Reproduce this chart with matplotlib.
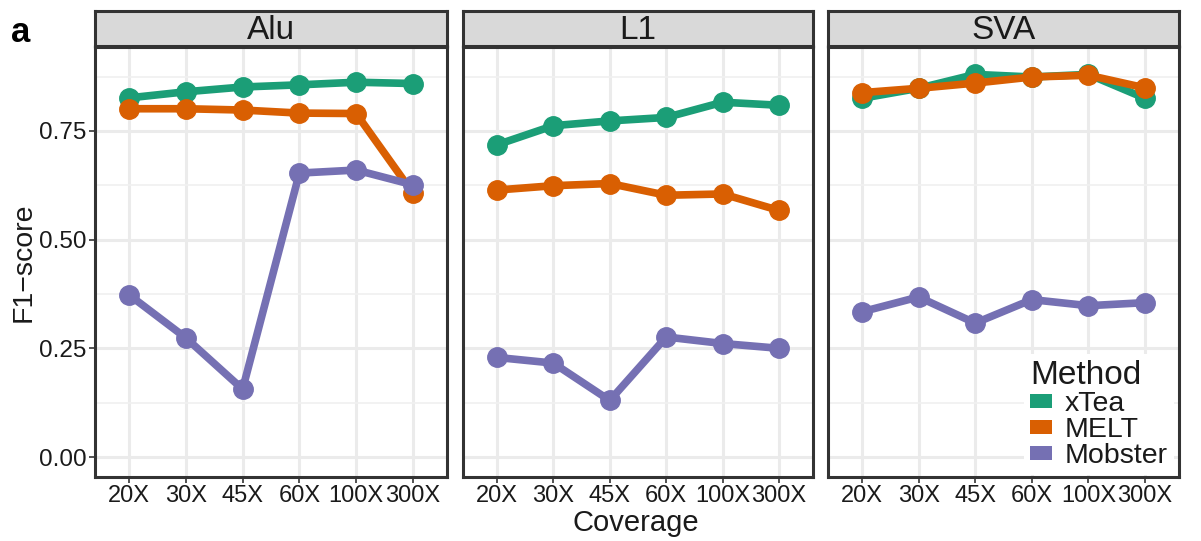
import matplotlib.pyplot as plt
from matplotlib.patches import Patch

plt.rcParams['font.family'] = ['Liberation Sans', 'DejaVu Sans']

coverage = ["20X", "30X", "45X", "60X", "100X", "300X"]
elements = ["Alu", "L1", "SVA"]
methods = ["xTea", "MELT", "Mobster"]
colors = {"xTea": "#1B9E77", "MELT": "#D95F02", "Mobster": "#7570B3"}

# F1-score per method, one list per element type
alu_xtea = [0.826, 0.840, 0.851, 0.856, 0.862, 0.859]
alu_melt = [0.801, 0.801, 0.798, 0.791, 0.790, 0.607]
alu_mobster = [0.373, 0.274, 0.156, 0.653, 0.660, 0.626]

l1_xtea = [0.718, 0.762, 0.773, 0.781, 0.816, 0.809]
l1_melt = [0.614, 0.624, 0.629, 0.602, 0.605, 0.567]
l1_mobster = [0.229, 0.216, 0.130, 0.276, 0.261, 0.250]

sva_xtea = [0.825, 0.848, 0.880, 0.874, 0.880, 0.825]
sva_melt = [0.838, 0.848, 0.860, 0.874, 0.878, 0.849]
sva_mobster = [0.334, 0.368, 0.308, 0.362, 0.348, 0.355]

scores = {
    "Alu": {"xTea": alu_xtea, "MELT": alu_melt, "Mobster": alu_mobster},
    "L1": {"xTea": l1_xtea, "MELT": l1_melt, "Mobster": l1_mobster},
    "SVA": {"xTea": sva_xtea, "MELT": sva_melt, "Mobster": sva_mobster},
}

W, H = 1201, 541
fig = plt.figure(figsize=(W / 100, H / 100), dpi=100)

panel_x = [(95, 447), (463, 813), (828, 1179)]
panel_top, panel_bot = 47, 477
strip_top = 11

frame = "#333333"
txt = "#1a1a1a"
xs = list(range(len(coverage)))
axes = []
for i, (el, (x0, x1)) in enumerate(zip(elements, panel_x)):
    ax = fig.add_axes([x0 / W, 1 - panel_bot / H, (x1 - x0) / W, (panel_bot - panel_top) / H])
    ax.set_facecolor("white")
    ax.set_xlim(-0.6, 5.6)
    ax.set_ylim(-0.046, 0.943)
    ax.set_yticks([0, 0.25, 0.5, 0.75])
    ax.set_yticks([0.125, 0.375, 0.625, 0.875], minor=True)
    ax.set_xticks(xs)
    ax.set_xticklabels(coverage, fontsize=17, color=txt)
    ax.grid(True, which="major", color="#EBEBEB", lw=2.2, zorder=0)
    ax.grid(True, which="minor", axis="y", color="#F0F0F0", lw=1.2, zorder=0)
    ax.tick_params(axis="both", which="major", length=4, width=1.2, color=frame, pad=2)
    ax.tick_params(axis="y", which="minor", length=0)
    if i == 0:
        ax.set_yticklabels(["0.00", "0.25", "0.50", "0.75"], fontsize=17.5, color=txt)
    else:
        ax.tick_params(axis="y", which="major", length=0, labelleft=False)
    for s in ax.spines.values():
        s.set_color(frame)
        s.set_linewidth(2.2)
    for m in methods:
        ax.plot(xs, scores[el][m], color=colors[m], lw=5.5, marker="o", ms=14,
                solid_capstyle="round", zorder=3)
    ax.set_axisbelow(True)

    # facet strip above the panel
    sax = fig.add_axes([x0 / W, 1 - (panel_top - 1) / H, (x1 - x0) / W, (panel_top - 1 - strip_top) / H])
    sax.set_facecolor("#D9D9D9")
    sax.set_xticks([])
    sax.set_yticks([])
    for s in sax.spines.values():
        s.set_color(frame)
        s.set_linewidth(2.2)
    sax.text(0.5, 0.45, el, ha="center", va="center", fontsize=24, color=txt,
             transform=sax.transAxes)
    axes.append(ax)

handles = [Patch(facecolor=colors[m], edgecolor="none", label=m) for m in methods]
leg = axes[2].legend(handles=handles, title="Method", loc="lower right",
                     bbox_to_anchor=(0.985, 0.005), borderaxespad=0, frameon=True,
                     fontsize=20.5, title_fontsize=24, handlelength=0.78, handleheight=0.42,
                     handletextpad=0.45, labelspacing=0.0, borderpad=0.2,
                     alignment="left")
leg.get_frame().set_facecolor("white")
leg.get_frame().set_edgecolor("none")
leg.get_frame().set_alpha(1)
for t in leg.get_texts():
    t.set_color(txt)
leg.get_title().set_color(txt)

fig.text(636 / W, 1 - 523 / H, "Coverage", ha="center", va="center", fontsize=21, color=txt)
fig.text(24 / W, 1 - 262 / H, "F1\u2212score", ha="center", va="center", rotation=90,
         fontsize=20.5, color=txt)
fig.text(11 / W, 1 - 33 / H, "a", ha="left", va="center", fontsize=25, fontweight="bold")

fig.savefig("out.png", dpi=100)
